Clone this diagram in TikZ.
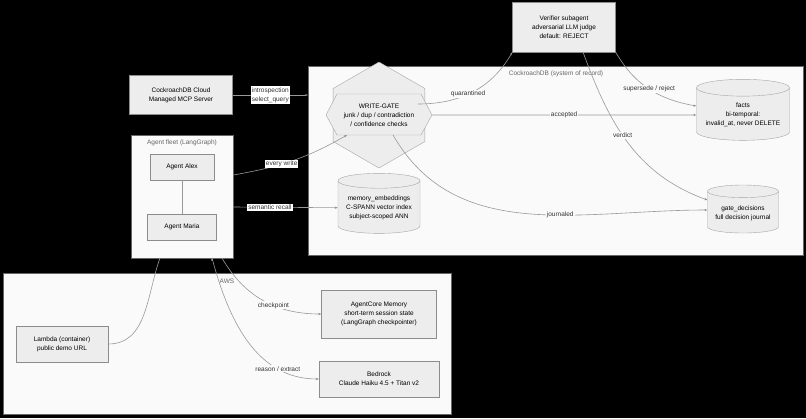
\documentclass[tikz,border=0pt]{standalone}
\usepackage{fontspec}
\setmainfont{Liberation Sans}
\usetikzlibrary{shapes.geometric, arrows.meta}

\begin{document}
\begin{tikzpicture}[x=1pt,y=-1pt,>={Stealth[length=3pt]},
  font=\fontsize{6.5}{9}\selectfont,
  box/.style={draw=black!45, fill=black!7, align=center, inner sep=0pt},
  db/.style={cylinder, shape border rotate=90, aspect=0.22, draw=black!35,
             fill=black!7, align=center, inner sep=1pt},
  cluster/.style={draw=black!60, fill=black!2, line width=0.8pt},
  conn/.style={draw=black!40, line width=0.6pt},
  lbl/.style={fill=white, inner sep=1pt, align=center, text=black!80}]
  \fill[black] (0,0) rectangle (806,418);

  % clusters
  \path[cluster] (308,66) rectangle (803,255);
  \node[text=black!60] (crdbtitle) at (556,74) {CockroachDB (system of record)};
  \path[cluster] (3,273) rectangle (451,414);
  \node[text=black!60] (awstitle) at (227,281) {AWS};
  \node[cluster, minimum width=102, minimum height=123] (fleet) at (182,196.5) {};
  \node[text=black!60] (fleettitle) at (182,143) {Agent fleet (LangGraph)};

  % nodes
  \node[box, minimum width=103, minimum height=50] (verifier) at (564,27)
       {Verifier subagent\\adversarial LLM judge\\default: REJECT};
  \node[box, minimum width=103, minimum height=39] (mcp) at (181,95)
       {CockroachDB Cloud\\Managed MCP Server};
  \node[box, minimum width=64, minimum height=26] (alex) at (182,167) {Agent Alex};
  \node[box, minimum width=69, minimum height=26] (maria) at (182,227) {Agent Maria};
  \node[regular polygon, regular polygon sides=6, shape border rotate=90, draw=black!35,
        fill=black!7, align=center, minimum height=41, minimum width=106,
        inner sep=0pt, regular polygon sides=6] (gate) at (379,115) {};
  \path[draw=black!35, fill=black!7] (326,115) -- (337,94) -- (421,94) -- (432,115)
        -- (421,135) -- (337,135) -- cycle;
  \node[align=center] (gatetext) at (379,115) {WRITE-GATE\\junk / dup / contradiction\\/ confidence checks};
  \node[db, minimum width=93, minimum height=61] (facts) at (743,115)
       {facts\\bi-temporal:\\invalid\_at, never DELETE};
  \node[db, minimum width=71, minimum height=48] (decisions) at (743,213)
       {gate\_decisions\\full decision journal};
  \node[db, minimum width=82, minimum height=60] (embed) at (379,208)
       {memory\_embeddings\\C-SPANN vector index\\subject-scoped ANN};
  \node[box, minimum width=92, minimum height=36] (lambda) at (62,344)
       {Lambda (container)\\public demo URL};
  \node[box, minimum width=115, minimum height=48] (agentcore) at (379,314)
       {AgentCore Memory\\short-term session state\\(LangGraph checkpointer)};
  \node[box, minimum width=120, minimum height=36] (bedrock) at (379,379)
       {Bedrock\\Claude Haiku 4.5 + Titan v2};

  \coordinate (crdbin) at (308,95);
  \coordinate (gatein) at (347,135);
  \coordinate (fleetbot) at (160,258);
  \coordinate (fleetbr) at (212,258);
  \coordinate (fleetbr2) at (222,258);

  % connectors
  \draw[conn] (alex) -- (maria);
  \path[conn, ->]
        (mcp) edge node[lbl] {introspection\\select\_query} (crdbin)
        (fleet.east |- 0,175) edge[out=10, in=210] node[lbl, pos=0.4] {every write} (gatein)
        (fleet.east |- 0,207) edge node[lbl, pos=0.35] {semantic recall} (embed)
        (gatetext.east |- 0,104) edge[out=0, in=-120] node[lbl, fill=black!2, pos=0.45] {quarantined} (verifier.south west)
        (432,115) edge[out=0, in=180] node[lbl, fill=black!2] {accepted} (facts.west)
        (393,135) edge[out=-60, in=180] node[lbl, fill=black!2, pos=0.6] {journaled} (decisions.west |- 0,210)
        (verifier.south east) edge[out=-60, in=170] node[lbl, fill=black!2, pos=0.5] {supersede / reject} (facts.west |- 0,106)
        (583,52) edge[out=-70, in=160] node[lbl, fill=black!2, pos=0.45] {verdict} (decisions.west |- 0,200)
        (fleetbr2) edge[out=-60, in=180] node[lbl, fill=black!2, pos=0.6] {checkpoint} (agentcore.west)
        (fleetbr) edge[out=-75, in=180] node[lbl, fill=black!2, pos=0.75] {reason / extract} (bedrock.west);
  \draw[conn] (fleetbot) to[out=-110, in=0] (lambda.east);
\end{tikzpicture}
\end{document}
